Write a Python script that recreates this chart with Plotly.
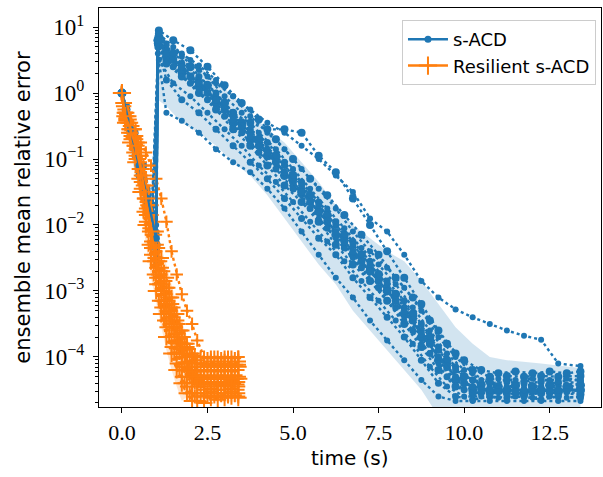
import numpy as np
import plotly.graph_objects as go

# ---------------- data (log10 of ensemble mean relative error) ----------------
sacd_time = [0, 0.25, 0.5, 0.75, 1.0, 1.05, 1.3, 1.75, 2.25, 2.75, 3.25, 3.75, 4.25, 4.75,
             5.25, 5.75, 6.25, 6.75, 7.25, 7.75, 8.25, 8.75, 9.25, 9.75, 10.25, 10.75,
             11.25, 11.75, 12.25, 12.75, 13.4]
sacd_time_b = [0, 0.12, 0.37, 0.62, 0.88, 1.08, 1.5, 2.0, 2.5, 3.0, 3.5, 4.0, 4.5, 5.0,
               5.5, 6.0, 6.5, 7.0, 7.5, 8.0, 8.5, 9.0, 9.5, 10.0, 10.5, 11.0,
               11.5, 12.0, 12.5, 13.0, 13.4]
sacd_mean_log = [0, -0.55, -1.1, -1.6, -2.2, 0.8, 0.6, 0.4, 0.15, -0.1, -0.4, -0.65, -0.9, -1.2,
                 -1.5, -1.8, -2.1, -2.4, -2.7, -3.0, -3.3, -3.65, -4.0, -4.3, -4.45, -4.5,
                 -4.5, -4.5, -4.5, -4.5, -4.5]
sacd_upper_log = [0, -0.3, -0.8, -1.3, -1.9, 1.0, 0.8, 0.6, 0.4, 0.2, -0.05, -0.3, -0.55, -0.75,
                  -1.05, -1.35, -1.7, -2.0, -2.2, -2.4, -2.55, -2.85, -3.2, -3.55, -3.8, -4.0,
                  -4.05, -4.07, -4.1, -4.13, -4.17]
sacd_lower_log = [0, -0.9, -1.5, -2.0, -2.8, -0.1, -0.2, -0.45, -0.6, -0.8, -1.05, -1.25, -1.55, -1.9,
                  -2.25, -2.6, -2.9, -3.3, -3.6, -3.9, -4.2, -4.5, -4.9, -5.0, -5.0, -5.0,
                  -5.0, -5.0, -5.0, -5.0, -5.0]
# runs sampled on sacd_time
sacd_runs_log = [
    [0, -0.5, -1.0, -1.5, -2.1, 0.9, 0.75, 0.55, 0.35, 0.15, -0.05, -0.25, -0.45, -0.6,
     -0.8, -1.0, -1.25, -1.5, -1.9, -2.1, -2.45, -2.85, -3.1, -3.28, -3.4, -3.5,
     -3.6, -3.68, -3.74, -4.1, -4.14],
    [0, -0.6, -1.15, -1.65, -2.3, 0.75, 0.5, 0.3, 0.1, -0.1, -0.3, -0.45, -0.55, -0.55,
     -0.6, -0.95, -1.2, -1.6, -2.0, -2.4, -2.8, -3.2, -3.6, -3.95, -4.2, -4.3,
     -4.29, -4.3, -4.29, -4.3, -4.29],
    [0, -0.45, -0.95, -1.45, -2.0, 0.85, 0.72, 0.6, 0.42, 0.2, -0.05, -0.35, -0.6, -0.85,
     -1.15, -1.45, -1.75, -2.1, -2.4, -2.65, -2.95, -3.3, -3.7, -4.0, -4.25, -4.4,
     -4.45, -4.42, -4.45, -4.4, -4.42],
    [0, -0.65, -1.25, -1.8, -2.5, 0.7, 0.2, -0.1, -0.3, -0.55, -0.8, -1.05, -1.3, -1.6,
     -1.9, -2.2, -2.45, -2.8, -3.1, -3.4, -3.7, -4.05, -4.4, -4.6, -4.65, -4.6,
     -4.62, -4.6, -4.65, -4.6, -4.62],
    [0, -0.55, -1.1, -1.65, -2.3, 0.8, 0.55, 0.35, 0.1, -0.15, -0.45, -0.7, -0.95, -1.25,
     -1.5, -1.8, -2.15, -2.45, -2.7, -3.0, -3.35, -3.7, -4.05, -4.35, -4.5, -4.52,
     -4.5, -4.55, -4.5, -4.52, -4.5],
    [0, -0.6, -1.2, -1.75, -2.6, 0.6, -0.3, -0.42, -0.6, -0.85, -1.05, -1.2, -1.45, -1.75,
     -2.1, -2.45, -2.8, -3.1, -3.45, -3.75, -4.05, -4.35, -4.6, -4.67, -4.67, -4.67,
     -4.67, -4.67, -4.67, -4.67, -4.67],
    [0, -0.5, -1.05, -1.55, -2.15, 0.82, 0.65, 0.45, 0.25, 0.0, -0.3, -0.55, -0.75, -1.05,
     -1.35, -1.65, -1.95, -2.25, -2.55, -2.85, -3.15, -3.5, -3.85, -4.15, -4.35, -4.4,
     -4.38, -4.4, -4.38, -4.4, -4.38],
    [0, -0.6, -1.15, -1.7, -2.35, 0.75, 0.45, 0.25, 0.0, -0.25, -0.55, -0.8, -1.1, -1.4,
     -1.65, -1.95, -2.3, -2.6, -2.85, -3.15, -3.5, -3.85, -4.2, -4.45, -4.55, -4.55,
     -4.55, -4.58, -4.55, -4.55, -4.57],
    [0, -0.5, -1.0, -1.5, -2.4, 0.8, 0.65, 0.4, 0.2, -0.05, -0.3, -0.6, -0.9, -1.2,
     -1.55, -1.9, -2.2, -2.5, -2.85, -3.15, -3.45, -3.8, -4.1, -4.35, -4.45, -4.47,
     -4.45, -4.47, -4.45, -4.47, -4.47],
    [0, -0.55, -1.1, -1.6, -2.2, 0.78, 0.6, 0.35, 0.15, -0.1, -0.35, -0.6, -0.85, -1.1,
     -1.4, -1.7, -2.0, -2.3, -2.6, -2.9, -3.25, -3.6, -3.9, -4.2, -4.35, -4.38,
     -4.35, -4.37, -4.35, -4.37, -4.35],
]
# runs sampled on sacd_time_b
sacd_runs_b_log = [
    [0, -0.2, -0.6, -1.1, -1.7, 0.95, 0.8, 0.65, 0.4, 0.12, -0.15, -0.4, -0.7, -1.0,
     -1.3, -1.55, -1.85, -2.15, -2.45, -2.8, -3.1, -3.45, -3.8, -4.05, -4.2, -4.25,
     -4.22, -4.25, -4.22, -4.25, -4.22],
    [0, -0.35, -0.95, -1.5, -2.1, 0.5, 0.15, -0.05, -0.3, -0.55, -0.8, -1.1, -1.35, -1.65,
     -1.95, -2.25, -2.55, -2.85, -3.15, -3.45, -3.8, -4.15, -4.45, -4.6, -4.6, -4.62,
     -4.6, -4.62, -4.6, -4.62, -4.6],
    [0, -0.25, -0.75, -1.3, -1.85, 0.85, 0.6, 0.4, 0.12, -0.15, -0.45, -0.7, -0.95, -1.25,
     -1.55, -1.85, -2.15, -2.45, -2.75, -3.05, -3.35, -3.7, -4.05, -4.3, -4.42, -4.45,
     -4.43, -4.45, -4.43, -4.45, -4.43],
    [0, -0.3, -0.85, -1.4, -2.0, 0.7, 0.4, 0.15, -0.1, -0.35, -0.6, -0.9, -1.15, -1.45,
     -1.75, -2.05, -2.35, -2.65, -2.95, -3.25, -3.6, -3.95, -4.3, -4.5, -4.55, -4.53,
     -4.55, -4.53, -4.55, -4.53, -4.55],
    [0, -0.22, -0.7, -1.25, -1.8, 0.9, 0.7, 0.5, 0.25, -0.05, -0.3, -0.6, -0.85, -1.15,
     -1.45, -1.75, -2.05, -2.35, -2.6, -2.9, -3.25, -3.6, -3.95, -4.2, -4.35, -4.33,
     -4.35, -4.33, -4.35, -4.33, -4.35],
    [0, -0.28, -0.8, -1.35, -1.95, 0.78, 0.5, 0.25, 0.0, -0.25, -0.5, -0.8, -1.05, -1.35,
     -1.65, -1.95, -2.25, -2.55, -2.85, -3.15, -3.45, -3.8, -4.15, -4.4, -4.5, -4.5,
     -4.52, -4.5, -4.52, -4.5, -4.52],
]

res_time = [0, 0.1, 0.25, 0.4, 0.55, 0.7, 0.85, 1.0, 1.15, 1.3, 1.45, 1.6, 1.75, 1.9,
            2.05, 2.2, 2.4, 2.6, 2.8, 3.0, 3.2, 3.4]
res_time_b = [0, 0.05, 0.18, 0.33, 0.48, 0.63, 0.78, 0.93, 1.08, 1.23, 1.38, 1.53, 1.68, 1.83,
              1.98, 2.13, 2.3, 2.5, 2.7, 2.9, 3.1, 3.3, 3.4]
res_mean_log = [0, -0.35, -0.55, -0.8, -1.15, -1.6, -2.1, -2.55, -2.9, -3.15, -3.4, -3.65, -3.88,
                -4.08, -4.22, -4.3, -4.33, -4.33, -4.33, -4.33, -4.33, -4.33]
res_upper_log = [0, -0.2, -0.35, -0.55, -0.85, -1.2, -1.6, -2.0, -2.35, -2.6, -2.9, -3.2, -3.45,
                 -3.7, -3.9, -4.0, -4.0, -4.0, -4.0, -4.0, -4.0, -4.0]
res_lower_log = [0, -0.5, -0.8, -1.15, -1.7, -2.3, -2.8, -3.2, -3.55, -3.9, -4.2, -4.45, -4.67,
                 -4.6, -4.68, -4.68, -4.68, -4.68, -4.68, -4.68, -4.68, -4.68]
res_runs_log = [
    [0, -0.3, -0.4, -0.55, -0.75, -0.9, -1.1, -1.3, -1.6, -1.95, -2.4, -2.75, -3.05, -3.3,
     -3.5, -3.75, -4.0, -4.0, -4.0, -4.0, -4.0, -4.0],
    [0, -0.3, -0.45, -0.65, -0.95, -1.4, -1.85, -2.3, -2.65, -2.95, -3.2, -3.45, -3.7, -3.85,
     -4.0, -4.1, -4.15, -4.12, -4.15, -4.12, -4.15, -4.12],
    [0, -0.35, -0.55, -0.8, -1.15, -1.6, -2.1, -2.55, -2.9, -3.15, -3.4, -3.65, -3.9, -4.1,
     -4.25, -4.3, -4.33, -4.3, -4.33, -4.3, -4.35, -4.33],
    [0, -0.4, -0.65, -0.95, -1.35, -1.85, -2.35, -2.8, -3.15, -3.45, -3.7, -3.95, -4.15, -4.3,
     -4.4, -4.45, -4.45, -4.42, -4.45, -4.43, -4.45, -4.45],
    [0, -0.45, -0.75, -1.05, -1.5, -2.0, -2.55, -3.0, -3.35, -3.7, -3.95, -4.2, -4.4, -4.55,
     -4.67, -4.67, -4.7, -4.62, -4.65, -4.62, -4.6, -4.62],
    [0, -0.32, -0.5, -0.75, -1.05, -1.5, -1.95, -2.4, -2.75, -3.05, -3.3, -3.55, -3.8, -4.0,
     -4.15, -4.2, -4.22, -4.2, -4.22, -4.2, -4.22, -4.2],
    [0, -0.38, -0.6, -0.85, -1.25, -1.75, -2.25, -2.65, -3.0, -3.3, -3.55, -3.8, -4.0, -4.2,
     -4.3, -4.38, -4.4, -4.38, -4.4, -4.38, -4.4, -4.38],
    [0, -0.3, -0.5, -0.7, -0.95, -1.3, -1.7, -2.1, -2.5, -2.8, -3.1, -3.35, -3.6, -3.8,
     -3.95, -4.05, -4.1, -4.07, -4.1, -4.07, -4.1, -4.07],
    [0, -0.36, -0.55, -0.82, -1.2, -1.65, -2.15, -2.6, -2.95, -3.25, -3.5, -3.75, -3.95, -4.15,
     -4.28, -4.35, -4.5, -4.48, -4.5, -4.5, -4.48, -4.5],
    [0, -0.42, -0.7, -1.0, -1.45, -1.95, -2.45, -2.9, -3.25, -3.55, -3.85, -4.1, -4.3, -4.45,
     -4.55, -4.55, -4.55, -4.53, -4.55, -4.55, -4.53, -4.55],
]
res_runs_b_log = [
    [0, -0.15, -0.35, -0.55, -0.85, -1.25, -1.7, -2.15, -2.55, -2.85, -3.1, -3.35, -3.6, -3.8,
     -3.98, -4.1, -4.15, -4.12, -4.15, -4.12, -4.15, -4.12, -4.15],
    [0, -0.25, -0.55, -0.8, -1.15, -1.6, -2.05, -2.5, -2.9, -3.2, -3.45, -3.7, -3.95, -4.15,
     -4.3, -4.4, -4.42, -4.4, -4.42, -4.4, -4.42, -4.4, -4.42],
    [0, -0.2, -0.45, -0.68, -1.0, -1.4, -1.85, -2.35, -2.75, -3.05, -3.3, -3.55, -3.78, -4.0,
     -4.15, -4.27, -4.3, -4.28, -4.3, -4.28, -4.3, -4.28, -4.3],
    [0, -0.3, -0.6, -0.9, -1.3, -1.8, -2.3, -2.75, -3.15, -3.45, -3.7, -3.95, -4.2, -4.4,
     -4.55, -4.6, -4.6, -4.58, -4.6, -4.58, -4.6, -4.58, -4.6],
    [0, -0.15, -0.3, -0.5, -0.75, -1.1, -1.5, -1.95, -2.35, -2.7, -2.95, -3.25, -3.5, -3.7,
     -3.88, -3.98, -4.0, -4.02, -4.0, -4.02, -4.0, -4.02, -4.0],
]

y_tick_exponents = [1, 0, -1, -2, -3, -4]
x_tick_values = [0.0, 2.5, 5.0, 7.5, 10.0, 12.5]
series_names = ["s-ACD", "Resilient s-ACD"]
x_title = "time (s)"
y_title = "ensemble mean relative error"

# ---------------- styling ----------------
BLUE = "#1f77b4"
ORANGE = "#ff7f0e"
BLUE_FILL = "rgba(31,119,180,0.2)"
ORANGE_FILL = "rgba(255,127,14,0.2)"
SANS = "'DejaVu Sans', sans-serif"
SERIF = "'Liberation Serif', 'DejaVu Serif', serif"


def to_val(lst):
    return np.power(10.0, np.array(lst, dtype=float))


fig = go.Figure()


def add_band(t, up, lo, fill):
    fig.add_trace(go.Scatter(x=t, y=to_val(up), mode="lines", line=dict(width=0),
                             showlegend=False, hoverinfo="skip"))
    fig.add_trace(go.Scatter(x=t, y=to_val(lo), mode="lines", line=dict(width=0),
                             fill="tonexty", fillcolor=fill, showlegend=False,
                             hoverinfo="skip"))


add_band(sacd_time, sacd_upper_log, sacd_lower_log, BLUE_FILL)
add_band(res_time, res_upper_log, res_lower_log, ORANGE_FILL)

blue_sizes = [6, 8, 6, 7, 9, 6, 7, 8, 6, 7, 8, 6, 9, 7, 6, 8]
orange_sizes = [9, 11, 8, 10, 12, 9, 10, 11, 9, 10, 12, 9, 11, 10, 9]

blue_sets = [(sacd_time, r) for r in sacd_runs_log] + [(sacd_time_b, r) for r in sacd_runs_b_log]
orange_sets = [(res_time, r) for r in res_runs_log] + [(res_time_b, r) for r in res_runs_b_log]

for i, (t, r) in enumerate(blue_sets):
    fig.add_trace(go.Scatter(x=t, y=to_val(r), mode="lines+markers",
                             line=dict(color=BLUE, width=2.4, dash="dot"),
                             marker=dict(color=BLUE, size=blue_sizes[i], symbol="circle"),
                             showlegend=False))
for i, (t, r) in enumerate(orange_sets):
    fig.add_trace(go.Scatter(x=t, y=to_val(r), mode="lines+markers",
                             line=dict(color=ORANGE, width=2.4, dash="dot"),
                             marker=dict(color=ORANGE, size=orange_sizes[i], symbol="cross-thin",
                                         line=dict(color=ORANGE, width=2)),
                             showlegend=False))

fig.add_trace(go.Scatter(x=sacd_time, y=to_val(sacd_mean_log), mode="lines+markers",
                         name=series_names[0],
                         line=dict(color=BLUE, width=2.5),
                         marker=dict(color=BLUE, size=7, symbol="circle")))
fig.add_trace(go.Scatter(x=res_time, y=to_val(res_mean_log), mode="lines+markers",
                         name=series_names[1],
                         line=dict(color=ORANGE, width=2.5),
                         marker=dict(color=ORANGE, size=13, symbol="cross-thin",
                                     line=dict(color=ORANGE, width=2))))


def sup(e):
    s = str(e).replace("-", "\u2212")
    return "10<sup>" + s + "</sup>"


minor_vals = [m * 10.0 ** e for e in range(-5, 2) for m in range(2, 10)]

fig.update_layout(
    width=603, height=477,
    margin=dict(l=99, r=2, t=8, b=70),
    paper_bgcolor="white", plot_bgcolor="white",
    showlegend=True,
    legend=dict(x=0.99, y=0.97, xanchor="right", yanchor="top",
                traceorder="normal",
                bgcolor="rgba(255,255,255,0.85)", bordercolor="#cccccc", borderwidth=1,
                font=dict(family=SANS, size=18, color="black"),
                itemwidth=40, tracegroupgap=4),
    annotations=[
        dict(text=x_title, xref="paper", yref="paper", x=0.5, y=-0.127,
             xanchor="center", yanchor="middle", showarrow=False,
             font=dict(family=SANS, size=20, color="black")),
        dict(text=y_title, xref="paper", yref="paper", x=-0.153, y=0.5,
             xanchor="center", yanchor="middle", showarrow=False, textangle=-90,
             font=dict(family=SANS, size=21, color="black")),
    ],
)
fig.update_xaxes(
    range=[-0.67, 14.0], automargin=False,
    tickmode="array", tickvals=x_tick_values,
    ticktext=["%.1f" % v for v in x_tick_values],
    ticks="outside", ticklen=5, tickwidth=1.2, tickcolor="black",
    showline=True, linecolor="black", linewidth=1.2, mirror=True,
    showgrid=False, zeroline=False,
    tickfont=dict(family=SERIF, size=22, color="black"),
)
fig.update_yaxes(
    type="log", range=[-4.76, 1.29], automargin=False,
    tickmode="array", tickvals=[10.0 ** e for e in y_tick_exponents],
    ticktext=[sup(e) for e in y_tick_exponents],
    ticks="outside", ticklen=5, tickwidth=1.2, tickcolor="black",
    ticklabelstandoff=4,
    minor=dict(ticks="outside", ticklen=3, tickcolor="black", tickwidth=0.8,
               tickmode="array", tickvals=minor_vals, showgrid=False),
    showline=True, linecolor="black", linewidth=1.2, mirror=True,
    showgrid=False, zeroline=False,
    tickfont=dict(family=SERIF, size=23, color="black"),
)

fig.write_html("out.html", config={"displayModeBar": False},
               post_script="document.body.style.margin='0';document.body.style.overflow='hidden';")
